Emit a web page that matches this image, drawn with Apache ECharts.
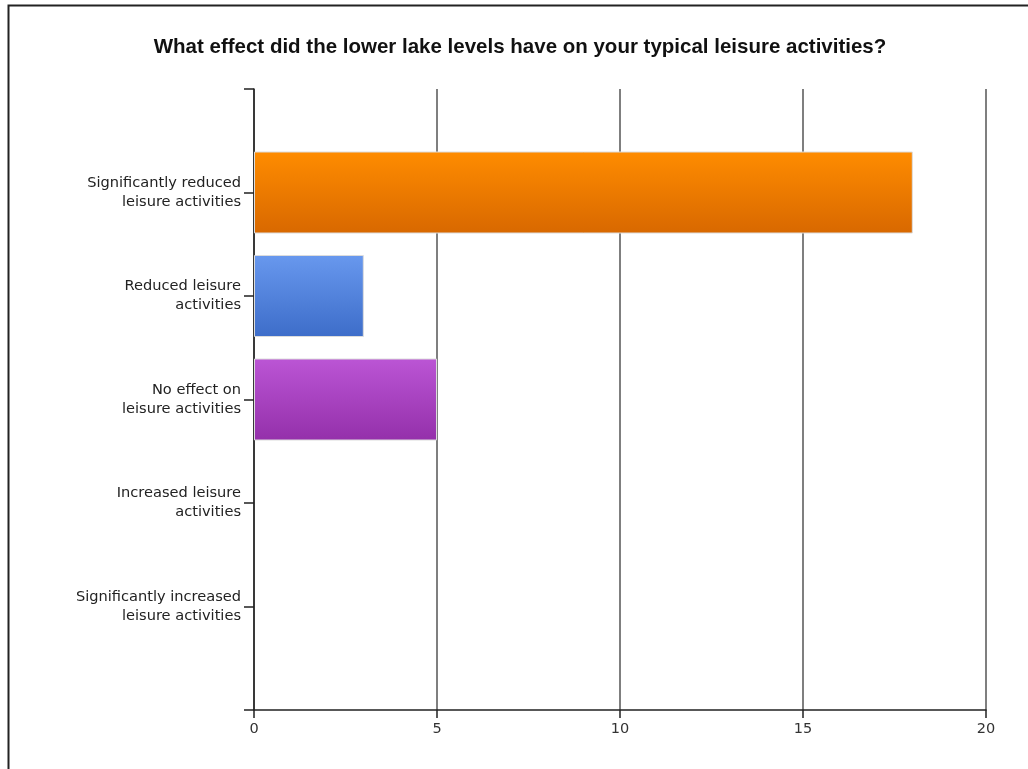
<!DOCTYPE html>
<html>
<head>
<meta charset="utf-8">
<script src="https://cdn.jsdelivr.net/npm/echarts@6/dist/echarts.min.js"></script>
<style>
html,body{margin:0;padding:0;background:#fff;}
#chart{width:1028px;height:769px;}
</style>
</head>
<body>
<div id="chart"></div>
<script>
const titleText = 'What effect did the lower lake levels have on your typical leisure activities?';
const categories = [
  'Significantly reduced\nleisure activities',
  'Reduced leisure\nactivities',
  'No effect on\nleisure activities',
  'Increased leisure\nactivities',
  'Significantly increased\nleisure activities'
];
const counts = [18, 3, 5, 0, 0];
const xTicks = [0, 5, 10, 15, 20];

const barColors = [
  ['#ff8c00', '#d86800'],
  ['#6898ee', '#3d6dc9'],
  ['#bb55d5', '#9430aa'],
  ['#888888', '#666666'],
  ['#888888', '#666666']
];

const axisCats = [''].concat(categories, ['']);
const barData = [null].concat(counts.map((v, i) => ({
  value: v,
  itemStyle: {
    borderWidth: v === 0 ? 0 : 1,
    borderColor: v === 0 ? 'rgba(0,0,0,0)' : '#dcdcdc',
    color: new echarts.graphic.LinearGradient(0, 0, 0, 1, [
      {offset: 0, color: barColors[i][0]},
      {offset: 1, color: barColors[i][1]}
    ])
  }
})), [null]);

const chart = echarts.init(document.getElementById('chart'), null, {renderer: 'canvas'});
chart.setOption({
  backgroundColor: '#ffffff',
  animation: false,
  title: {
    text: titleText,
    left: 515,
    top: 32,
    textAlign: 'center',
    textStyle: {fontFamily: 'Liberation Sans', fontSize: 20.5, fontWeight: 'bold', color: '#111'}
  },
  graphic: [{
    type: 'rect',
    shape: {x: 8.5, y: 5.5, width: 1100, height: 1000},
    style: {fill: 'none', stroke: '#222', lineWidth: 2},
    silent: true, z: 100
  }],
  grid: {left: 254, right: 42, top: 89, bottom: 59, containLabel: false},
  xAxis: {
    type: 'value',
    min: 0, max: 20, interval: 5,
    axisLine: {show: true, lineStyle: {color: '#222', width: 1.5}},
    axisTick: {show: true, length: 8, lineStyle: {color: '#222', width: 1.5}},
    axisLabel: {fontFamily: 'DejaVu Sans', fontSize: 14.5, color: '#333', margin: 12,
      formatter: v => xTicks.includes(v) ? String(v) : ''},
    splitLine: {show: true, lineStyle: {color: '#555', width: 1.5}}
  },
  yAxis: {
    type: 'category',
    data: axisCats,
    inverse: true,
    boundaryGap: false,
    axisLine: {show: true, lineStyle: {color: '#222', width: 1.5}},
    axisTick: {show: true, length: 10, interval: 0, lineStyle: {color: '#222', width: 1.5}},
    axisLabel: {fontFamily: 'DejaVu Sans', fontSize: 14.6, color: '#222', margin: 13,
      lineHeight: 19, interval: 0, align: 'right'},
    splitLine: {show: false}
  },
  series: [{
    type: 'bar',
    data: barData,
    barWidth: 82
  }]
});
</script>
</body>
</html>
